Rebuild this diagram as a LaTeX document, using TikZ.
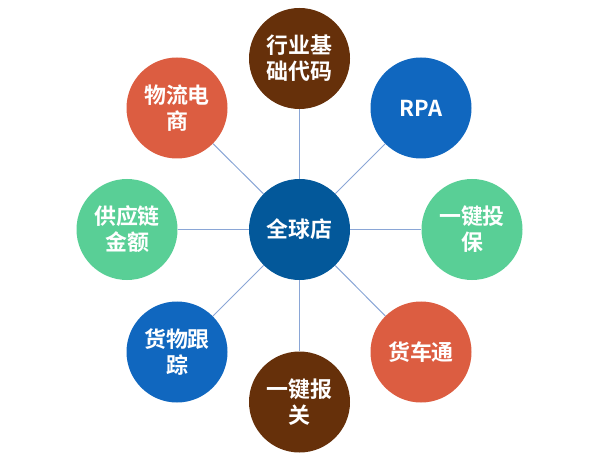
\documentclass[tikz,border=0pt]{standalone}
\usepackage{fontspec}
\setmainfont{Noto Sans CJK SC}[BoldFont={Noto Sans CJK SC Bold}]
\definecolor{cCenter}{HTML}{03589A}
\definecolor{cBrown}{HTML}{66300A}
\definecolor{cBlue}{HTML}{1067BF}
\definecolor{cGreen}{HTML}{59CF96}
\definecolor{cOrange}{HTML}{DC5D41}
\definecolor{cLine}{HTML}{8AA6D6}
\tikzset{
  bubble/.style={circle, minimum size=101bp, inner sep=0pt, text=white,
    align=center, font=\fontsize{22}{26}\selectfont\bfseries},
  conn/.style={draw=cLine, line width=1bp}
}
\begin{document}
\begin{tikzpicture}[x=1bp,y=-1bp]
\useasboundingbox (0,0) rectangle (595,463);
\node[bubble, fill=cCenter] (c) at (299.5,229.5) {全球店};
\node[bubble, fill=cBrown] (n) at (299.5,58.5) {行业基\\础代码};
\node[bubble, fill=cBlue] (ne) at (421,108) {RPA};
\node[bubble, fill=cGreen] (e) at (472,229.5) {一键投\\保};
\node[bubble, fill=cOrange] (se) at (421,352) {货车通};
\node[bubble, fill=cBrown] (s) at (299.5,402) {一键报\\关};
\node[bubble, fill=cBlue] (sw) at (177,352) {货物跟\\踪};
\node[bubble, fill=cGreen] (w) at (127,229.5) {供应链\\金额};
\node[bubble, fill=cOrange] (nw) at (177,108) {物流电\\商};
\foreach \t in {n,ne,e,se,s,sw,w,nw} {\draw[conn] (c) -- (\t);}
\end{tikzpicture}
\end{document}
